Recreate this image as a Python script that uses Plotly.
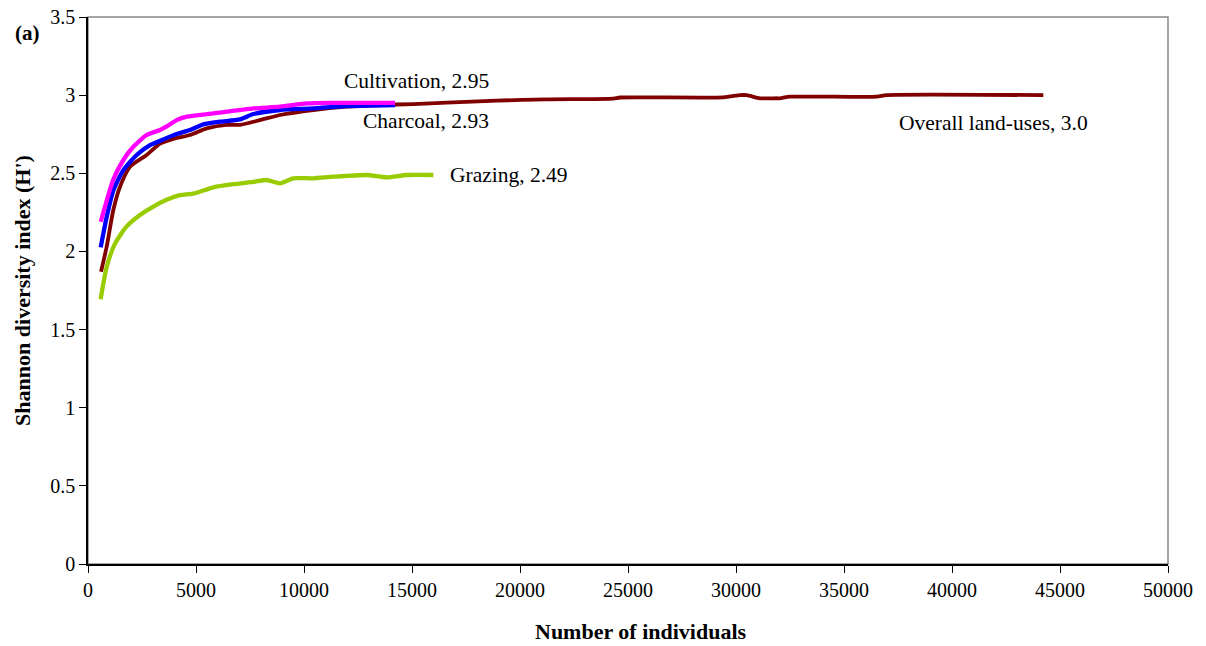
import plotly.graph_objects as go

# Data
overall_x = [602, 865, 1172, 1481, 1944, 2716, 3333, 3950, 4722, 5494, 6420, 7037, 7963, 8889,
             10432, 11975, 13519, 15062, 16605, 18920, 21235, 24321, 24630, 29414, 30185, 30494,
             31111, 31883, 32037, 32500, 36512, 36975, 44228]
overall_y = [1.87, 2.03, 2.265, 2.414, 2.542, 2.617, 2.69, 2.72, 2.745, 2.787, 2.81, 2.81, 2.84, 2.873,
             2.905, 2.926, 2.937, 2.943, 2.952, 2.965, 2.973, 2.978, 2.985, 2.986, 3.0, 3.0,
             2.98, 2.98, 2.98, 2.99, 2.99, 3.0, 3.0]

charcoal_x = [588, 865, 1172, 1636, 2253, 2870, 3488, 4105, 4722, 5340, 6111, 7037, 7654, 8889,
              10432, 11975, 14213]
charcoal_y = [2.026, 2.22, 2.39, 2.52, 2.617, 2.68, 2.717, 2.751, 2.777, 2.813, 2.83, 2.845, 2.879, 2.905,
              2.915, 2.93, 2.937]

cultivation_x = [590, 1172, 1636, 2099, 2716, 3333, 3642, 4105, 4568, 5802, 7654, 8889, 10123, 11204, 14213]
cultivation_y = [2.19, 2.46, 2.585, 2.67, 2.745, 2.777, 2.80, 2.84, 2.862, 2.883, 2.915, 2.926, 2.947, 2.951, 2.95]

grazing_x = [586, 865, 1250, 1790, 2407, 3025, 3642, 4259, 4877, 5802, 6728, 7654, 8271, 8889,
             9506, 10432, 11358, 12901, 13827, 14753, 15987]
grazing_y = [1.694, 1.90, 2.05, 2.16, 2.233, 2.287, 2.33, 2.36, 2.37, 2.41, 2.43, 2.445, 2.457, 2.436,
             2.468, 2.468, 2.478, 2.489, 2.474, 2.489, 2.489]

labels = ["Overall land-uses, 3.0", "Charcoal, 2.93", "Cultivation, 2.95", "Grazing, 2.49"]
label_x = [41900, 15650, 15200, 19500]
label_y = [2.82, 2.835, 3.09, 2.49]

FONT = "Liberation Serif, Times New Roman, serif"

fig = go.Figure()
series = [
    (overall_x, overall_y, "#800000", 3.8, "Overall land-uses"),
    (charcoal_x, charcoal_y, "#0000ff", 4.3, "Charcoal"),
    (cultivation_x, cultivation_y, "#ff00ff", 4.3, "Cultivation"),
    (grazing_x, grazing_y, "#99cc00", 4.3, "Grazing"),
]
for xs, ys, col, w, name in series:
    fig.add_trace(go.Scatter(x=xs, y=ys, mode="lines", name=name,
                             line=dict(color=col, width=w, shape="spline", smoothing=0.6)))

for t, x, y in zip(labels, label_x, label_y):
    fig.add_annotation(x=x, y=y, text=t, showarrow=False, xanchor="center", yanchor="middle",
                       font=dict(family=FONT, size=21.5, color="black"))

fig.add_annotation(xref="paper", yref="paper", x=-0.056, y=0.971, text="<b>(a)</b>",
                   showarrow=False, xanchor="center", yanchor="middle",
                   font=dict(family=FONT, size=21, color="black"))

# x-axis title (placed slightly right of centre, as in the reference)
fig.add_annotation(xref="paper", yref="paper", x=0.5116, y=-0.1243,
                   text="<b>Number of individuals</b>", showarrow=False,
                   xanchor="center", yanchor="middle",
                   font=dict(family=FONT, size=22, color="black"))

fig.add_shape(type="rect", xref="paper", yref="paper", x0=0, y0=0, x1=1, y1=1,
              line=dict(color="#888888", width=1.5), layer="below")

fig.update_layout(
    width=1206, height=646,
    margin=dict(l=88, r=38, t=17, b=82),
    paper_bgcolor="white", plot_bgcolor="white",
    showlegend=False,
    font=dict(family=FONT, size=20, color="black"),
    xaxis=dict(range=[0, 50000], dtick=5000, tick0=0, tickformat="d", showgrid=False, zeroline=False,
               automargin=False,
               showline=True, linecolor="black", linewidth=1.5,
               ticks="outside", ticklen=7, tickcolor="black", tickwidth=1,
               tickfont=dict(family=FONT, size=20, color="black")),
    yaxis=dict(range=[0, 3.5], dtick=0.5, tick0=0, showgrid=False, zeroline=False,
               automargin=False,
               showline=True, linecolor="black", linewidth=1.5,
               ticks="outside", ticklen=7, tickcolor="black", tickwidth=1,
               tickfont=dict(family=FONT, size=20, color="black"),
               title=dict(text="<b>Shannon diversity index (H')</b>", standoff=14,
                          font=dict(family=FONT, size=22, color="black"))),
)

fig.write_html("out.html")
